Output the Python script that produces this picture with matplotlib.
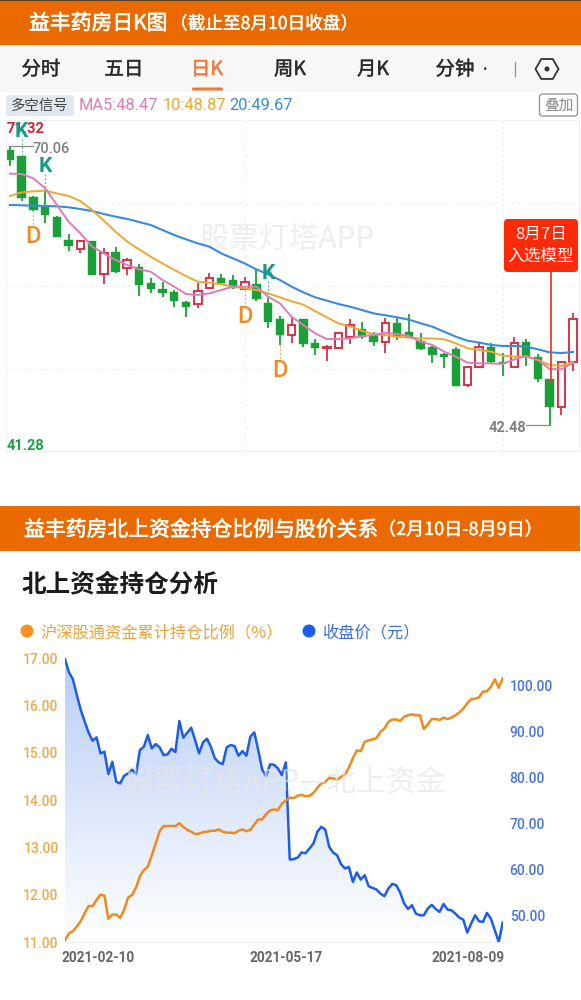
import numpy as np
import matplotlib
matplotlib.use("Agg")
import matplotlib.pyplot as plt
import matplotlib.patheffects as pe
from matplotlib.patches import Rectangle, FancyBboxPatch, RegularPolygon, Circle

plt.rcParams['font.family'] = ['Noto Sans CJK SC', 'DejaVu Sans']

W = 581
H = 1000

# K chart, daily candles
opens = [69.65, 69.09, 65.04, 63.99, 63.00, 60.79, 59.90, 60.63, 57.37, 59.57, 57.96, 58.09, 56.48, 55.89, 55.66, 54.67, 54.47,
         55.98, 56.97, 56.81, 55.92, 56.41, 54.57, 52.95, 51.37, 52.95, 50.62, 50.06, 50.09, 51.14, 52.00, 51.34, 50.71, 52.53,
         51.64, 50.75, 50.22, 49.46, 50.02, 46.47, 48.18, 50.15, 48.71, 48.24, 50.71, 49.23, 47.03, 44.29, 48.71]
closes = [68.67, 64.88, 63.73, 63.20, 61.09, 60.17, 60.63, 57.30, 59.44, 57.57, 58.82, 56.28, 55.89, 55.49, 54.70, 54.14, 55.75,
          56.97, 56.54, 56.02, 56.58, 54.90, 52.69, 51.37, 52.36, 50.48, 50.12, 50.19, 51.60, 52.36, 51.21, 50.68, 52.59, 51.21,
          51.14, 50.02, 49.36, 49.23, 46.37, 48.18, 50.15, 48.71, 48.61, 50.55, 49.20, 47.03, 44.23, 48.71, 52.99]
highs = [70.06, 69.09, 65.11, 65.64, 63.13, 61.35, 60.76, 60.69, 59.94, 60.10, 58.95, 58.39, 56.97, 56.58, 55.82, 54.77, 56.48,
         57.53, 57.40, 57.30, 57.14, 57.80, 55.03, 53.28, 53.05, 52.95, 50.95, 50.39, 51.70, 52.92, 52.69, 51.70, 53.02, 53.18,
         53.45, 51.60, 50.29, 49.56, 50.22, 48.24, 50.55, 50.55, 49.63, 51.21, 50.95, 49.50, 47.03, 48.78, 53.51]
lows = [68.07, 64.61, 63.66, 62.47, 61.09, 59.71, 59.51, 57.27, 56.38, 57.53, 57.27, 55.23, 55.56, 55.10, 54.17, 53.18, 54.01,
        55.92, 56.31, 55.95, 55.82, 54.76, 52.06, 50.39, 50.58, 50.19, 49.40, 48.80, 50.02, 50.48, 50.95, 50.29, 49.63, 50.88,
        51.08, 49.89, 48.57, 48.15, 46.33, 46.27, 48.11, 48.64, 47.35, 48.21, 48.31, 46.76, 42.48, 43.47, 47.78]
ma5 = [67.32, 67.28, 66.85, 65.87, 64.22, 62.57, 61.42, 60.10, 59.44, 58.78, 58.29, 57.86, 57.63, 56.81, 56.15, 55.42, 55.33,
       55.49, 55.82, 56.15, 56.15, 56.15, 55.16, 54.50, 53.18, 52.36, 51.54, 50.98, 50.98, 51.04, 51.27, 51.37, 51.60, 51.47,
       51.27, 50.71, 50.39, 49.73, 49.23, 48.64, 48.57, 48.57, 48.51, 48.97, 49.30, 48.90, 48.01, 47.98, 48.64]
ma10 = [65.11, 65.47, 65.57, 65.64, 65.37, 65.11, 64.61, 63.73, 62.67, 61.58, 60.60, 59.84, 59.11, 58.45, 57.80, 57.20, 56.64,
        56.54, 56.38, 56.15, 55.98, 55.82, 55.49, 55.10, 54.70, 54.37, 53.74, 53.12, 52.53, 52.20, 51.80, 51.44, 51.37, 51.21,
        51.11, 51.04, 51.04, 50.95, 50.55, 50.06, 49.89, 49.73, 49.33, 49.23, 49.23, 48.90, 48.41, 48.31, 48.74]
ma20 = [64.22, 64.19, 64.15, 64.12, 64.09, 63.99, 63.82, 63.63, 63.33, 63.07, 62.84, 62.54, 62.24, 61.75, 61.25, 60.83, 60.43,
        60.10, 59.44, 58.95, 58.45, 57.86, 57.37, 56.81, 56.15, 55.59, 55.10, 54.77, 54.44, 54.17, 53.84, 53.51, 53.32, 53.12,
        52.89, 52.53, 52.20, 51.70, 51.21, 50.81, 50.62, 50.39, 50.29, 50.29, 50.22, 49.96, 49.66, 49.59, 49.69]
k_signals = [1, 3, 22]
d_signals = [2, 20, 23]
tabs = ["分时", "五日", "日K", "周K", "月K", "分钟"]

# north-bound holding chart
hold_ratio = [11.04, 11.18, 11.23, 11.33, 11.44, 11.61, 11.76, 11.76, 11.89, 12.00, 11.98, 11.49, 11.58, 11.58, 11.51, 11.68,
              11.94, 11.99, 12.15, 12.39, 12.52, 12.59, 12.83, 13.08, 13.34, 13.45, 13.45, 13.45, 13.45, 13.51, 13.43, 13.37,
              13.33, 13.28, 13.29, 13.32, 13.33, 13.35, 13.35, 13.38, 13.33, 13.31, 13.31, 13.30, 13.35, 13.38, 13.34, 13.37,
              13.48, 13.59, 13.59, 13.70, 13.78, 13.80, 13.79, 13.92, 13.99, 14.05, 14.04, 14.09, 14.11, 14.08, 14.09, 14.15,
              14.26, 14.35, 14.38, 14.47, 14.46, 14.43, 14.49, 14.54, 14.69, 14.88, 15.05, 15.03, 15.23, 15.26, 15.28, 15.31,
              15.44, 15.51, 15.65, 15.70, 15.70, 15.67, 15.76, 15.79, 15.81, 15.79, 15.79, 15.50, 15.60, 15.71, 15.71, 15.69,
              15.74, 15.71, 15.74, 15.79, 15.85, 15.93, 16.04, 16.13, 16.14, 16.17, 16.29, 16.30, 16.39, 16.55, 16.37, 16.57]
close_price = [105.82, 102.98, 101.46, 98.03, 94.76, 92.21, 89.81, 88.06, 88.79, 85.30, 85.66, 80.79, 83.48, 79.11, 78.75, 80.42,
               80.93, 81.80, 80.79, 86.03, 86.75, 89.30, 86.39, 87.34, 86.61, 84.93, 85.08, 86.32, 85.59, 92.36, 88.72, 89.81,
               90.90, 88.21, 85.30, 87.70, 88.50, 86.75, 84.21, 83.33, 82.97, 86.61, 87.12, 86.90, 84.79, 85.81, 84.79, 88.94,
               89.88, 86.03, 81.80, 80.35, 82.90, 82.82, 82.02, 80.57, 83.33, 62.15, 62.23, 62.59, 63.68, 63.54, 64.56, 65.65,
               68.20, 69.29, 68.70, 64.92, 63.68, 63.10, 61.14, 60.19, 60.55, 57.28, 59.32, 57.79, 58.73, 56.33, 55.97, 55.60,
               54.73, 54.15, 55.82, 56.84, 56.55, 54.95, 52.55, 51.38, 52.18, 50.36, 50.00, 50.00, 51.46, 52.26, 51.38, 50.73,
               52.47, 51.24, 51.09, 50.36, 49.49, 49.05, 46.22, 48.18, 50.00, 48.69, 48.54, 50.51, 49.27, 46.72, 44.18, 48.40]
date_ticks = [0, 56, 111]
date_labels = ["2021-02-10", "2021-05-17", "2021-08-09"]
ratio_ticks = [11, 12, 13, 14, 15, 16, 17]
price_ticks = [50, 60, 70, 80, 90, 100]

ORANGE_BAR = "#ea6a00"
GREEN = "#1aa038"
RED = "#d6334a"
MA5_C = "#e07cb4"
MA10_C = "#eda92f"
MA20_C = "#3a8ade"
HOLD_C = "#ef8a1c"
CLOSE_C = "#1f5ce8"


def px_axes(left, top, right, bottom):
    return fig.add_axes([left / W, 1 - bottom / H, (right - left) / W, (bottom - top) / H])


def thicken(txt, width=0.45):
    # the CJK family has no medium weight here, a thin stroke gets close to it
    txt.set_path_effects([pe.withStroke(linewidth=width, foreground=txt.get_color())])


fig = plt.figure(figsize=(W / 100, H / 100), dpi=100, facecolor="white")

# page furniture is laid out in pixels on a full-size axes
page = fig.add_axes([0, 0, 1, 1])
page.set_xlim(0, W)
page.set_ylim(H, 0)
page.axis("off")

page.add_patch(Rectangle((0, 0), W, 45, color=ORANGE_BAR, lw=0))
page.add_patch(Rectangle((0, 0), W, 1, color="#5a4020", lw=0))
thicken(page.text(29, 23.5, "益丰药房日K图", color="white", fontsize=15, va="center"))
thicken(page.text(170, 24, "（截止至8月10日收盘）", color="white", fontsize=12.7, va="center"), 0.3)

page.add_patch(Rectangle((0, 45), W, 47, color="#f7f7f7", lw=0))
for name, cx in zip(tabs, [41, 124, 207, 290, 373, 455]):
    thicken(page.text(cx, 69.5, name, fontsize=14, ha="center", va="center",
                      color="#f0793a" if name == "日K" else "#2b2b2b"), 0.3)
page.text(484, 69, "·", fontsize=9, ha="center", va="center", color="#333333")
page.add_patch(FancyBboxPatch((192, 87.5), 31, 3, boxstyle="round,pad=0,rounding_size=1.5", color="#f5762a", lw=0))
page.plot([515, 515], [62, 76], color="#999999", lw=1)
page.add_patch(RegularPolygon((547, 69), 6, radius=11.5, orientation=np.pi / 6, fill=False, ec="#333333", lw=1.3))
page.add_patch(Circle((547, 69), 2.5, color="#333333", lw=0))

page.add_patch(FancyBboxPatch((6, 95), 68, 21, boxstyle="round,pad=0,rounding_size=3", color="#e3e7ef", lw=0))
page.text(40, 105.5, "多空信号", fontsize=10.4, color="#444444", ha="center", va="center")
page.text(79, 105, "MA5:48.47", fontsize=11.8, color=MA5_C, va="center", family="Roboto")
page.text(163, 105, "10:48.87", fontsize=11.8, color=MA10_C, va="center", family="Roboto")
page.text(229, 105, "20:49.67", fontsize=11.8, color=MA20_C, va="center", family="Roboto")
page.add_patch(FancyBboxPatch((539.5, 94), 38, 22, boxstyle="round,pad=0,rounding_size=3", fc="white", ec="#999999", lw=1))
page.text(558.5, 105.5, "叠加", fontsize=10.6, color="#888888", ha="center", va="center")

page.add_patch(Rectangle((0, 506), 580, 45, color=ORANGE_BAR, lw=0))
thicken(page.text(24, 530, "益丰药房北上资金持仓比例与股价关系", color="white", fontsize=15, va="center"))
thicken(page.text(378, 530, "（2月10日-8月9日）", color="white", fontsize=13, va="center"), 0.3)
page.text(22, 584.5, "北上资金持仓分析", color="#1c1c1c", fontsize=17.7, va="center", weight="bold")
page.add_patch(Circle((27, 631), 6.5, color="#f7931e", lw=0))
page.text(40, 632.5, "沪深股通资金累计持仓比例（%）", color="#eda33c", fontsize=11.7, va="center")
page.add_patch(Circle((309, 631), 6.5, color="#1e5cf0", lw=0))
page.text(322, 632.5, "收盘价（元）", color="#3a6fe0", fontsize=11.7, va="center")

# candles
px_per_price = 10.12
ax = px_axes(6, 120, 579, 451)
ax.set_xlim(-0.34, 48.5)
ax.set_ylim(39.91, 72.62)
ax.set_xticks([20, 42])
ax.set_yticks([48.06, 56.22, 64.37])
ax.tick_params(length=0, labelbottom=False, labelleft=False)
ax.grid(True, color="#ededed", lw=0.8, ls=(0, (2, 3)))
ax.set_axisbelow(True)
for sp in ax.spines.values():
    sp.set_color("#f1f1f1")
    sp.set_linewidth(0.8)

ax.text(23.7, 60.8, "股票灯塔APP", fontsize=21.5, color="#eeeeee", ha="center", va="center", zorder=1)

for i in range(len(opens)):
    up = closes[i] >= opens[i]
    c = RED if up else GREEN
    body_low = min(opens[i], closes[i])
    body_high = max(opens[i], closes[i])
    ax.plot([i, i], [lows[i], body_low], color=c, lw=1.3, zorder=2, solid_capstyle="butt")
    ax.plot([i, i], [body_high, highs[i]], color=c, lw=1.3, zorder=2, solid_capstyle="butt")
    if up:
        ax.add_patch(Rectangle((i - 0.33, body_low), 0.66, body_high - body_low, fc="white", ec=c, lw=1.4, zorder=2))
    else:
        ax.add_patch(Rectangle((i - 0.36, body_low), 0.72, body_high - body_low, fc=c, ec=c, lw=0.3, zorder=2))

x = np.arange(len(opens))
ax.plot(x, ma20, color=MA20_C, lw=1.5, zorder=3)
ax.plot(x, ma10, color=MA10_C, lw=1.4, zorder=3)
ax.plot(x, ma5, color=MA5_C, lw=1.4, zorder=3)

for i in k_signals:
    ax.plot([i, i], [highs[i], highs[i] + 17 / px_per_price], color="#5bb8ad", lw=0.9, ls=(0, (1.5, 1.5)), zorder=3)
    ax.annotate("K", (i, highs[i]), xytext=(0, 24 * 0.72), textcoords="offset points", ha="center", va="center",
                color="#179a86", fontsize=15, weight="bold", zorder=5, family="Roboto")
for i in d_signals:
    ax.plot([i, i], [lows[i], lows[i] - 16 / px_per_price], color="#eea45a", lw=0.9, ls=(0, (1.5, 1.5)), zorder=3)
    ax.annotate("D", (i, lows[i]), xytext=(0, -26 * 0.72), textcoords="offset points", ha="center", va="center",
                color="#f08a24", fontsize=17, weight="medium", zorder=5, family="Roboto")

ax.plot([0, 1.95], [70.06, 70.06], color="#888888", lw=0.9, zorder=3)
ax.text(1.95, 69.8, "70.06", color="#808080", fontsize=10.5, va="center", family="Roboto", weight="medium")
ax.plot([44, 46], [42.48, 42.48], color="#888888", lw=0.9, zorder=3)
ax.text(44.05, 42.15, "42.48", color="#808080", fontsize=10.5, va="center", ha="right", family="Roboto", weight="bold")
ax.text(-0.3, 71.7, "71.32", color="#c8283c", fontsize=10.5, va="center", ha="left", family="Roboto", weight="bold", zorder=4)
ax.text(-0.3, 40.4, "41.28", color="#1e9e46", fontsize=10.5, va="center", ha="left", family="Roboto", weight="bold")

# callout for the selection date
ax.plot([46.15, 46.15], [46.6, 61.5], color="#f03a2a", lw=1.3, zorder=6)
page.set_zorder(1)
ax.set_zorder(2)
ax.patch.set_visible(False)
top = fig.add_axes([0, 0, 1, 1])
top.set_xlim(0, W)
top.set_ylim(H, 0)
top.axis("off")
top.set_zorder(6)
top.add_patch(FancyBboxPatch((504, 219), 74, 53, boxstyle="round,pad=0,rounding_size=4", color="#fb2b0a", lw=0))
top.text(541, 234, "8月7日", color="white", fontsize=12, ha="center", va="center")
top.text(541, 256.5, "入选模型", color="white", fontsize=12, ha="center", va="center")

# holding ratio vs close price
ax_l = px_axes(65, 658, 502.7, 942)
ax_r = ax_l.twinx()
ax_l.set_zorder(4)
ax_r.set_zorder(3)
ax_l.patch.set_visible(False)
ax_r.patch.set_visible(False)
t = np.arange(len(close_price))

ax_r.set_ylim(44.17, 106.1)
ax_r.set_xlim(0, len(close_price) - 1)
band = ax_r.fill_between(t, close_price, 44.17, color="none", lw=0)
grad = np.zeros((256, 2, 4))
grad[:, :, :3] = (0.22, 0.45, 0.91)
grad[:, :, 3] = np.linspace(0.36, 0.0, 256)[:, None]
img = ax_r.imshow(grad, extent=(0, len(close_price) - 1, 44.17, 106.1), aspect="auto", origin="upper", zorder=1)
img.set_clip_path(band.get_paths()[0], transform=ax_r.transData)
ax_r.plot(t, close_price, color=CLOSE_C, lw=1.8, zorder=3, solid_joinstyle="round")
ax_r.set_xlim(0, len(close_price) - 1)
ax_r.set_ylim(44.17, 106.1)
ax_r.set_yticks(price_ticks)
ax_r.set_yticklabels(["%.2f" % v for v in price_ticks], color="#4a74e0", fontsize=10, family="Roboto", weight="medium")
ax_r.tick_params(length=0, pad=5)

ax_l.plot(t, hold_ratio, color=HOLD_C, lw=1.8, zorder=3, solid_joinstyle="round")
ax_l.set_ylim(11, 17)
ax_l.set_yticks(ratio_ticks)
ax_l.set_yticklabels(["%.2f" % v for v in ratio_ticks], color="#f0a94a", fontsize=10, family="Roboto", weight="medium")
ax_l.set_xticks(date_ticks)
ax_l.set_xticklabels([])
ax_l.tick_params(length=0, axis="y", pad=4.6)
ax_l.tick_params(length=0, axis="x")
for tick, label, ha, dx in zip(date_ticks, date_labels, ["left", "center", "right"], [-3, 0, 2]):
    ax_l.annotate(label, (tick, 0), xycoords=ax_l.get_xaxis_transform(), xytext=(dx * 0.72, -16 * 0.72),
                  textcoords="offset points", ha=ha, va="center", color="#666666", fontsize=9.8,
                  family="Roboto", weight="bold", annotation_clip=False)
for a in (ax_l, ax_r):
    for side in ("top", "left", "right"):
        a.spines[side].set_visible(False)
    a.spines["bottom"].set_color("#eeeeee")
top.text(286, 782, "股票灯塔APP—北上资金", fontsize=21.5, color="#e6e6e6", ha="center", va="center", alpha=0.65)

fig.savefig("out.png", dpi=100)
